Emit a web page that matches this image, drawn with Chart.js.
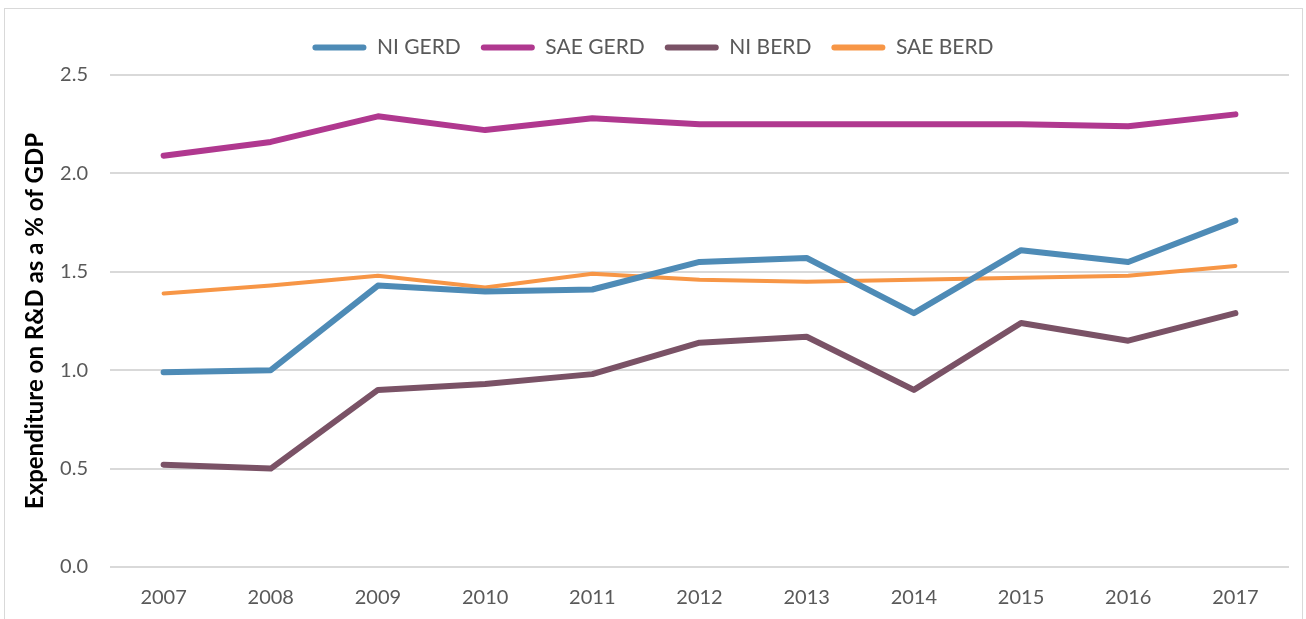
<!DOCTYPE html>
<html>
<head>
<meta charset="utf-8">
<script src="https://cdn.jsdelivr.net/npm/chart.js@4"></script>
<style>
  html, body { margin: 0; padding: 0; background: #fff; }
  #wrap { position: relative; width: 1306px; height: 619px; overflow: hidden; }
  #frame { position: absolute; left: 4px; top: 8px; width: 1299px; height: 640px; border: 1px solid #d9d9d9; box-sizing: border-box; }
  canvas { position: absolute; left: 0; top: 0; }
</style>
</head>
<body>
<div id="wrap">
  <div id="frame"></div>
  <canvas id="myChart" width="1306" height="619"></canvas>
</div>
<script>
// data
var years = ['2007', '2008', '2009', '2010', '2011', '2012', '2013', '2014', '2015', '2016', '2017'];
var niGerd  = [0.99, 1.00, 1.43, 1.40, 1.41, 1.55, 1.57, 1.29, 1.61, 1.55, 1.76];
var saeGerd = [2.09, 2.16, 2.29, 2.22, 2.28, 2.25, 2.25, 2.25, 2.25, 2.24, 2.30];
var niBerd  = [0.52, 0.50, 0.90, 0.93, 0.98, 1.14, 1.17, 0.90, 1.24, 1.15, 1.29];
var saeBerd = [1.39, 1.43, 1.48, 1.42, 1.49, 1.46, 1.45, 1.46, 1.47, 1.48, 1.53];
var yTitle = 'Expenditure on R&D as a % of GDP';

var FONT = 'Lato, "Open Sans", sans-serif';

function line(label, data, color, width) {
    return {
        label: label,
        data: data,
        borderColor: color,
        backgroundColor: color,
        borderWidth: width,
        pointRadius: 0,
        tension: 0,
        borderCapStyle: 'round',
        borderJoinStyle: 'round'
    };
}

// extra room between legend and plot
var legendGap = {
    id: 'legendGap',
    beforeInit: function (chart) {
        var fit = chart.legend.fit;
        chart.legend.fit = function () {
            fit.bind(chart.legend)();
            this.height += 7;
        };
    }
};

var ctx = document.getElementById('myChart').getContext('2d');

var myLineChart = new Chart(ctx, {
    type: 'line',
    data: {
        labels: years,
        datasets: [
            line('NI GERD', niGerd, '#4e8bb6', 6),
            line('SAE GERD', saeGerd, '#b0388f', 6),
            line('NI BERD', niBerd, '#7a5266', 6),
            line('SAE BERD', saeBerd, '#f79646', 4)
        ]
    },
    plugins: [legendGap],
    options: {
        responsive: false,
        animation: false,
        layout: { padding: { top: 17, right: 17, bottom: 0, left: 17 } },
        plugins: {
            tooltip: { enabled: false },
            legend: {
                position: 'top',
                labels: {
                    font: { family: FONT, size: 21 },
                    color: '#595959',
                    boxWidth: 54,
                    boxHeight: 6,
                    padding: 20,
                    generateLabels: function (chart) {
                        var items = Chart.defaults.plugins.legend.labels.generateLabels(chart);
                        items.forEach(function (it) {
                            it.lineWidth = 0;
                            it.borderRadius = 3;
                        });
                        return items;
                    }
                }
            }
        },
        scales: {
            x: {
                offset: true,
                grid: { display: false, drawTicks: false },
                border: { display: false },
                ticks: { font: { family: FONT, size: 20 }, color: '#595959', padding: 19, maxRotation: 0 },
                afterFit: function (s) { s.height = 52; }
            },
            y: {
                min: 0,
                max: 2.5,
                ticks: {
                    stepSize: 0.5,
                    font: { family: FONT, size: 20 },
                    color: '#595959',
                    padding: 22,
                    callback: function (v) { return v.toFixed(1); }
                },
                grid: { color: '#d9d9d9', lineWidth: 2, drawTicks: false },
                border: { display: false },
                title: {
                    display: true,
                    text: yTitle,
                    font: { family: FONT, size: 24, weight: 'bold' },
                    color: '#000'
                },
                afterFit: function (s) { s.width = 93; }
            }
        }
    }
});
</script>
</body>
</html>
